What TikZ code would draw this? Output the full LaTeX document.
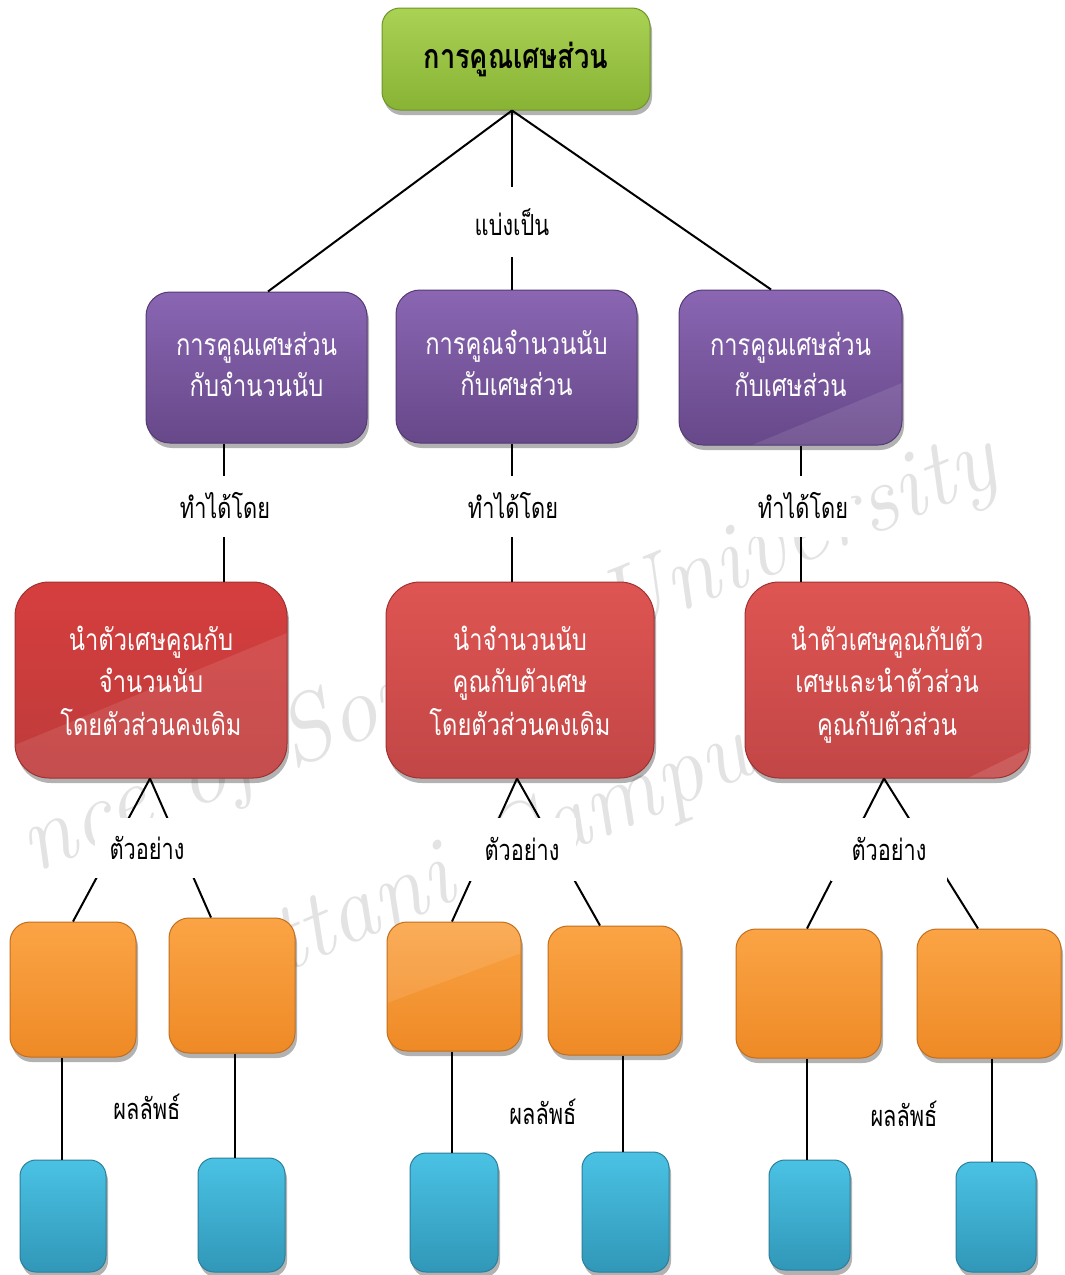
\documentclass[tikz,border=0pt]{standalone}
\usepackage{fontspec}
\newfontfamily\thai[Script=Thai,FakeStretch=0.79]{Loma}
\newfontfamily\thaititle[Script=Thai,FakeStretch=0.8]{Loma}
\newfontfamily\thailab[Script=Thai,FakeStretch=0.75]{Loma}
\usetikzlibrary{shadows,calc}
\newcommand\tstrut{\rule{0pt}{19pt}}
\definecolor{gtop}{HTML}{AAD255}
\definecolor{gbot}{HTML}{88B334}
\definecolor{gedge}{HTML}{6E9428}
\definecolor{ptop}{HTML}{8A66B3}
\definecolor{pbot}{HTML}{674889}
\definecolor{pedge}{HTML}{553A74}
\definecolor{rtop}{HTML}{DE5552}
\definecolor{rbot}{HTML}{C24646}
\definecolor{r1top}{HTML}{D63E3E}
\definecolor{r1bot}{HTML}{BE3B3B}
\definecolor{redge}{HTML}{9E3232}
\definecolor{otop}{HTML}{FBA445}
\definecolor{obot}{HTML}{EE8A26}
\definecolor{oedge}{HTML}{C26E1C}
\definecolor{btop}{HTML}{4AC2E4}
\definecolor{bbot}{HTML}{3197B8}
\definecolor{bedge}{HTML}{2A7E9A}
\begin{document}
\begin{tikzpicture}[x=0.5pt,y=-0.5pt,
  shad/.style={drop shadow={shadow xshift=1pt,shadow yshift=-2.5pt,opacity=0.3,fill=black}},
  boxbase/.style={shad,inner sep=0pt,align=center,line width=0.5pt},
  greenbox/.style={boxbase,rounded corners=9pt,top color=gtop,bottom color=gbot,draw=gedge,
    font=\thaititle\bfseries\fontsize{17}{20}\selectfont,text=black},
  purplebox/.style={boxbase,rounded corners=12pt,top color=ptop,bottom color=pbot,draw=pedge,
    font=\thai\fontsize{15}{20.5}\selectfont,text=white},
  redbox/.style={boxbase,rounded corners=17pt,top color=rtop,bottom color=rbot,draw=redge,
    font=\thai\fontsize{15}{21.25}\selectfont,text=white},
  orangebox/.style={boxbase,rounded corners=10pt,top color=otop,bottom color=obot,draw=oedge},
  bluebox/.style={boxbase,rounded corners=8pt,top color=btop,bottom color=bbot,draw=bedge},
  gloss/.style={sharp corners,fill=white,opacity=#1},
  lab/.style={fill=white,inner sep=0pt,font=\thailab\fontsize{14.5}{17}\selectfont,text=black},
  conn/.style={line width=1pt,black},
  wm/.style={inner sep=0pt,font=\itshape\fontsize{48}{48}\selectfont,text=black!11}]
\useasboundingbox (0,0) rectangle (1065,1275);
% watermark (faint, beneath the diagram)
\node[wm,anchor=base east,rotate=22] (wa) at (1003,482) {nce of Songkla University};
\node[wm,anchor=base west,rotate=23] (wb) at (180,1017) {Pattani Campus};
% boxes
\node[greenbox,minimum width=134pt,minimum height=51pt] (g) at (516,59) {การคูณเศษส่วน};
\node[purplebox,minimum width=110.5pt,minimum height=75.5pt] (p1) at (256.5,367.5) {\strut การคูณเศษส่วน\\กับจำนวนนับ\strut};
\node[purplebox,minimum width=120.5pt,minimum height=76.5pt] (p2) at (516.5,366.5) {\strut การคูณจำนวนนับ\\กับเศษส่วน\strut};
\node[purplebox,minimum width=111.5pt,minimum height=77.5pt,
  path picture={\path[gloss=0.1] ($(path picture bounding box.south east)+(-75pt,0)$) -- ($(path picture bounding box.south east)+(0,31pt)$) -- (path picture bounding box.south east) -- cycle;}]
  (p3) at (790.5,367.5) {\strut การคูณเศษส่วน\\กับเศษส่วน\strut};
\node[redbox,minimum width=136pt,minimum height=98pt,top color=r1top,bottom color=r1bot,
  path picture={\path[gloss=0.1] ($(path picture bounding box.south west)+(0,16.5pt)$) -- ($(path picture bounding box.north east)+(0,-25.5pt)$) -- (path picture bounding box.south east) -- (path picture bounding box.south west) -- cycle;}]
  (r1) at (151,680) {\tstrut นำตัวเศษคูณกับ\\จำนวนนับ\\โดยตัวส่วนคงเดิม\strut};
\node[redbox,minimum width=134pt,minimum height=98pt] (r2) at (520,680) {\tstrut นำจำนวนนับ\\คูณกับตัวเศษ\\โดยตัวส่วนคงเดิม\strut};
\node[redbox,minimum width=142pt,minimum height=98pt,
  path picture={\path[gloss=0.12] ($(path picture bounding box.south east)+(-30.5pt,0)$) -- ($(path picture bounding box.south east)+(0,15pt)$) -- (path picture bounding box.south east) -- cycle;}]
  (r3) at (887,680) {\tstrut นำตัวเศษคูณกับตัว\\เศษและนำตัวส่วน\\คูณกับตัวส่วน\strut};
\node[orangebox,minimum width=63pt,minimum height=67.5pt] (o1) at (73,989.5) {};
\node[orangebox,minimum width=63pt,minimum height=67.5pt] (o2) at (232,985.5) {};
\node[orangebox,minimum width=67pt,minimum height=64.5pt,
  path picture={\path[gloss=0.1] ($(path picture bounding box.south west)+(0,24pt)$) -- ($(path picture bounding box.south east)+(0,49pt)$) -- (path picture bounding box.north east) -- (path picture bounding box.north west) -- cycle;}]
  (o3) at (454,986.5) {};
\node[orangebox,minimum width=66.5pt,minimum height=64.5pt] (o4) at (614.5,990.5) {};
\node[orangebox,minimum width=72.5pt,minimum height=64.5pt] (o5) at (808.5,993.5) {};
\node[orangebox,minimum width=72pt,minimum height=64.5pt] (o6) at (989,993.5) {};
\node[bluebox,minimum width=43pt,minimum height=56pt] (b1) at (63,1216) {};
\node[bluebox,minimum width=43.5pt,minimum height=57pt] (b2) at (241.5,1215) {};
\node[bluebox,minimum width=44pt,minimum height=59.5pt] (b3) at (454,1212.5) {};
\node[bluebox,minimum width=43.5pt,minimum height=60pt] (b4) at (625.5,1212) {};
\node[bluebox,minimum width=40.5pt,minimum height=55pt] (b5) at (809.5,1215) {};
\node[bluebox,minimum width=40pt,minimum height=55pt] (b6) at (996,1217) {};
% connectors
\draw[conn] (g.south -| 512,0) -- (p1.north -| 268,0);
\draw[conn] (g.south -| 512,0) -- (p2.north -| 512,0);
\draw[conn] (g.south -| 512,0) -- (p3.north -| 771,0);
\draw[conn] (p1.south -| 224,0) -- (r1.north -| 224,0);
\draw[conn] (p2.south -| 512,0) -- (r2.north -| 512,0);
\draw[conn] (p3.south -| 801,0) -- (r3.north -| 801,0);
\draw[conn] (r1.south -| 150,0) -- (o1.north -| 73,0);
\draw[conn] (r1.south -| 150,0) -- (o2.north -| 211,0);
\draw[conn] (r2.south -| 517,0) -- (o3.north -| 452,0);
\draw[conn] (r2.south -| 517,0) -- (o4.north -| 600,0);
\draw[conn] (r3.south -| 884,0) -- (o5.north -| 807,0);
\draw[conn] (r3.south -| 884,0) -- (o6.north -| 978,0);
\draw[conn] (o1.south -| 62,0) -- (b1.north -| 62,0);
\draw[conn] (o2.south -| 235,0) -- (b2.north -| 235,0);
\draw[conn] (o3.south -| 452,0) -- (b3.north -| 452,0);
\draw[conn] (o4.south -| 623,0) -- (b4.north -| 623,0);
\draw[conn] (o5.south -| 807,0) -- (b5.north -| 807,0);
\draw[conn] (o6.south -| 992,0) -- (b6.north -| 992,0);
% labels
\node[lab,minimum width=45pt,minimum height=35pt] (l0) at (512,222) {แบ่งเป็น};
\node[lab,minimum width=48pt,minimum height=30.5pt] (l1) at (225,506) {ทำได้โดย};
\node[lab,minimum width=48pt,minimum height=30.5pt] (l2) at (513,506) {ทำได้โดย};
\node[lab,minimum width=48pt,minimum height=30.5pt] (l3) at (803,506) {ทำได้โดย};
\node[lab,minimum width=52pt,minimum height=30pt] (e1) at (147,848) {ตัวอย่าง};
\node[lab,minimum width=54pt,minimum height=31.5pt] (e2) at (522,849) {ตัวอย่าง};
\node[lab,minimum width=58pt,minimum height=31.5pt] (e3) at (889,849) {ตัวอย่าง};
\node[lab] (s1) at (147,1107) {ผลลัพธ์};
\node[lab] (s2) at (543,1112) {ผลลัพธ์};
\node[lab] (s3) at (904,1114) {ผลลัพธ์};
\end{tikzpicture}
\end{document}
